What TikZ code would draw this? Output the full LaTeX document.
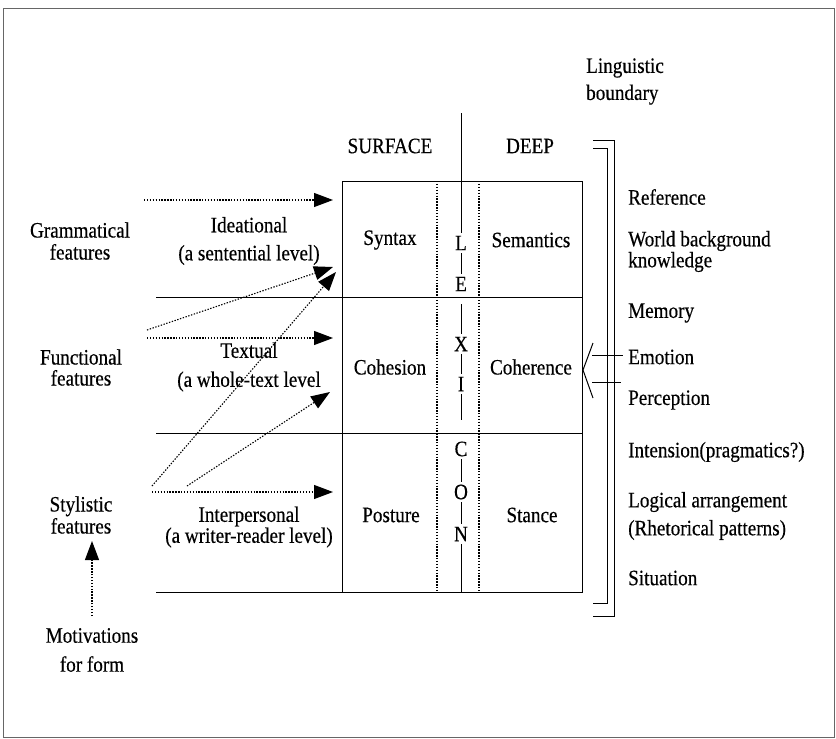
\documentclass[tikz,border=0pt]{standalone}
\usepackage{fontspec}
\setmainfont[FakeStretch=0.87,FakeBold=0.4]{Liberation Serif}
\usetikzlibrary{arrows.meta}
\begin{document}
\begin{tikzpicture}[x=1pt,y=-1pt,
  lbl/.style={font=\fontsize{22}{22}\selectfont, inner sep=0pt, align=center},
  rl/.style={font=\fontsize{22}{22}\selectfont, inner sep=0pt, anchor=west, align=left},
  ln/.style={line width=1pt},
  dotline/.style={line width=1.1pt, dash pattern=on 1.4pt off 1.5pt},
  arr/.style={dotline, -{Triangle[length=19pt,width=14pt]}}
]
\useasboundingbox (0,0) rectangle (836,739);
\draw[gray!80!black, line width=0.8pt] (3,8.5) rectangle (834,737);

% table
\draw[ln] (342,181) rectangle (582,592);
\draw[ln] (156,297) -- (582,297);
\draw[ln] (156,433) -- (582,433);
\draw[ln] (156,592) -- (342,592);
\draw[dotline] (437,181) -- (437,592);
\draw[dotline] (479,181) -- (479,592);

% header
\node[lbl] (surf) at (390,146) {SURFACE};
\node[lbl] (deep) at (530,146) {DEEP};

% cells
\node[lbl] (syn) at (390,240) {Syntax};
\node[lbl] (sem) at (531,240) {Semantics};
\node[lbl] (coh) at (390,367) {Cohesion};
\node[lbl] (cor) at (531,367) {Coherence};
\node[lbl] (pos) at (391,515) {Posture};
\node[lbl] (sta) at (532,515) {Stance};

% LEXICON
\node[lbl] (lL) at (461,243) {L};
\node[lbl] (lE) at (461,284) {E};
\node[lbl] (lX) at (461,344) {X};
\node[lbl] (lI) at (461,384) {I};
\node[lbl] (lC) at (461,449) {C};
\node[lbl] (lO) at (461,492) {O};
\node[lbl] (lN) at (461,534) {N};
\draw[ln] (461,113) -- (461,233);
\draw[ln] (461,253) -- (461,274);
\draw[ln] (461,304) -- (461,334);
\draw[ln] (461,354) -- (461,374);
\draw[ln] (461,394) -- (461,420);
\draw[ln] (461,459) -- (461,482);
\draw[ln] (461,502) -- (461,524);
\draw[ln] (461,544) -- (461,592);

% middle labels
\node[lbl, font=\fontsize{22}{28}\selectfont] (idea) at (249,241) {Ideational\\(a sentential level)};
\node[lbl, font=\fontsize{22}{29}\selectfont] (text) at (249,367) {Textual\\(a whole-text level};
\node[lbl, font=\fontsize{22}{21}\selectfont] (inter) at (249,527) {Interpersonal\\(a writer-reader level)};

% left labels
\node[lbl] (gram) at (80,241) {Grammatical\\features};
\node[lbl, font=\fontsize{22}{21}\selectfont] (func) at (81,367.5) {Functional\\features};
\node[lbl] (styl) at (81,515) {Stylistic\\features};
\node[lbl, font=\fontsize{22}{29}\selectfont] (motiv) at (92,650) {Motivations\\for form};

% arrow end points
\coordinate (gs) at (144,200); \coordinate (ge) at (333,200);
\coordinate (fs) at (147,338); \coordinate (fe) at (333,338);
\coordinate (fds) at (147,330); \coordinate (fde) at (333,267);
\coordinate (ss) at (152,492); \coordinate (se) at (333,492);
\coordinate (sd1s) at (152,486); \coordinate (sd1e) at (336,272);
\coordinate (sd2s) at (187,486); \coordinate (sd2e) at (330,392);
\coordinate (ms) at (92,616); \coordinate (me) at (92,541);

\draw[arr] (gs) -- (ge);
\draw[arr] (fs) -- (fe);
\draw[arr] (fds) -- (fde);
\draw[arr] (ss) -- (se);
\draw[arr] (sd1s) -- (sd1e);
\draw[arr] (sd2s) -- (sd2e);
\draw[arr] (ms) -- (me);

% right side
\node[rl, font=\fontsize{22}{27}\selectfont] (ling) at (586,81.5) {Linguistic\\boundary};
\draw[ln] (593,140) -- (614,140) -- (614,616) -- (593,616);
\draw[ln] (593,148) -- (607,148) -- (607,603) -- (593,603);
\draw[ln] (593,343) -- (583,370) -- (593,398);
\draw[ln] (592,355) -- (623,355);
\draw[ln] (592,382) -- (621,382);

\node[rl] (ref) at (628,197) {Reference};
\node[rl, font=\fontsize{22}{21}\selectfont] (world) at (628,251.5) {World background\\knowledge};
\node[rl] (mem) at (628,313) {Memory};
\node[rl] (emo) at (628,357) {Emotion};
\node[rl] (perc) at (628,400) {Perception};
\node[rl] (inten) at (628,452) {Intension(pragmatics?)};
\node[rl, font=\fontsize{22}{28}\selectfont] (logic) at (628,516) {Logical arrangement\\(Rhetorical patterns)};
\node[rl] (sit) at (628,578) {Situation};
\end{tikzpicture}
\end{document}
